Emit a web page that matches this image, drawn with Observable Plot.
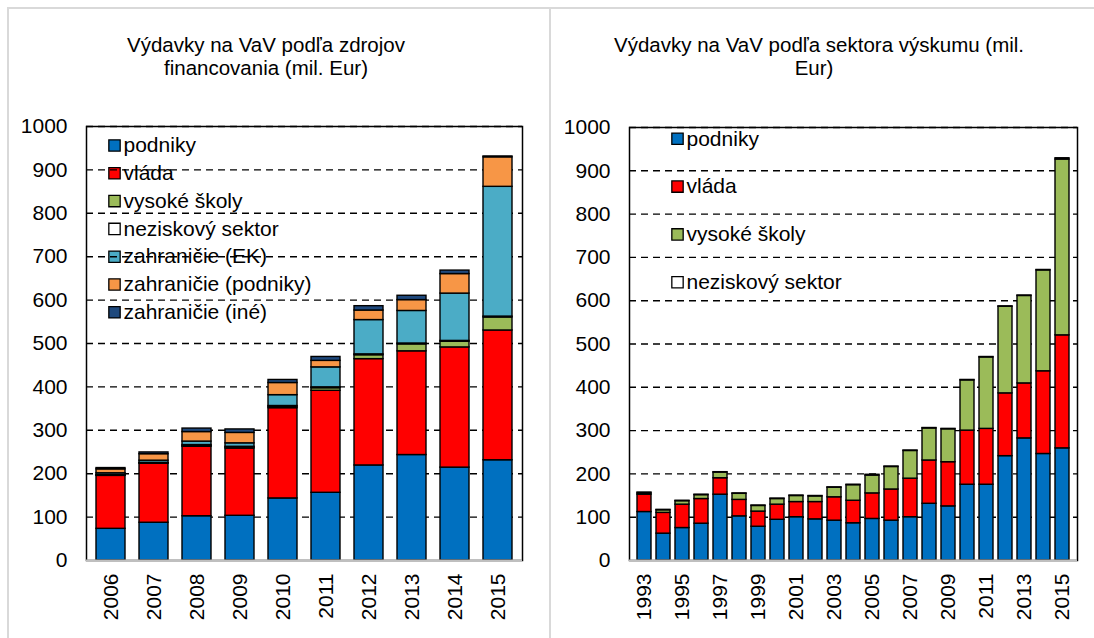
<!DOCTYPE html>
<html><head><meta charset="utf-8">
<script src="https://cdn.jsdelivr.net/npm/d3@7"></script>
<script src="https://cdn.jsdelivr.net/npm/@observablehq/plot@0.6"></script>
<style>
body{margin:0;background:#fff;font-family:"Liberation Sans",Arial,sans-serif;}
#wrap{position:relative;width:1094px;height:638px;overflow:hidden;background:#fff;}
.panel{position:absolute;top:7px;height:700px;border:2px solid #d9d9d9;box-sizing:border-box;}
.title{position:absolute;font-size:20.5px;line-height:23px;text-align:center;color:#000;white-space:nowrap;}
.chart{position:absolute;top:0;}
</style></head><body>
<div id="wrap">
  <div class="panel" style="left:7px;width:544px"></div>
  <div class="panel" style="left:549px;width:560px"></div>
  <div class="title" style="left:66px;width:400px;top:33px">Výdavky na VaV podľa zdrojov<br>financovania (mil. Eur)</div>
  <div class="title" style="left:614px;width:400px;top:33px">Výdavky na VaV podľa sektora výskumu (mil.<br>Eur)</div>
  <div class="chart" id="c1" style="left:0"></div>
  <div class="chart" id="c2" style="left:549px"></div>
</div>
<script>
// ---- Left chart: by source of funding ----
const years1 = [2006, 2007, 2008, 2009, 2010, 2011, 2012, 2013, 2014, 2015];
const series1 = ["podniky", "vláda", "vysoké školy", "neziskový sektor", "zahraničie (EK)", "zahraničie (podniky)", "zahraničie (iné)"];
const colors1 = ["#0070C0", "#FF0000", "#9BBB59", "#FFFFFF", "#4BACC6", "#F79646", "#1F497D"];
const podniky1 = [73, 87, 102, 103, 143, 156, 219, 243, 214, 231];
const vlada1 = [122, 136, 160, 155, 208, 235, 245, 239, 277, 299];
const vs1 = [1, 1, 2, 2, 3, 6, 9, 16, 13, 30];
const nezisk1 = [1, 1, 2, 2, 2, 2, 2, 2, 2, 2];
const ek1 = [4, 5, 8, 8, 25, 46, 79, 75, 109, 299];
const zahrPod1 = [9, 15, 22, 24, 28, 15, 22, 25, 45, 68];
const zahrIne1 = [3, 4, 8, 8, 7, 9, 10, 10, 8, 2];

// ---- Right chart: by research sector ----
const years2 = [1993, 1994, 1995, 1996, 1997, 1998, 1999, 2000, 2001, 2002, 2003, 2004, 2005, 2006, 2007, 2008, 2009, 2010, 2011, 2012, 2013, 2014, 2015];
const series2 = ["podniky", "vláda", "vysoké školy", "neziskový sektor"];
const colors2 = ["#0070C0", "#FF0000", "#9BBB59", "#FFFFFF"];
const podniky2 = [112, 62, 75, 85, 152, 102, 78, 94, 100, 95, 92, 86, 96, 92, 100, 131, 125, 175, 175, 241, 282, 246, 259];
const vlada2 = [40, 48, 54, 57, 38, 38, 35, 35, 35, 40, 54, 52, 59, 72, 89, 100, 102, 125, 129, 145, 127, 191, 261];
const vs2 = [3, 6, 8, 9, 13, 14, 13, 13, 14, 13, 22, 36, 41, 52, 64, 74, 76, 116, 165, 200, 202, 233, 406];
const nezisk2 = [2, 1, 1, 1, 1, 1, 1, 1, 1, 1, 1, 1, 2, 1, 1, 1, 1, 1, 1, 1, 1, 1, 3];

const yTicks = [0, 100, 200, 300, 400, 500, 600, 700, 800, 900, 1000];
const xTicks2 = [1993, 1995, 1997, 1999, 2001, 2003, 2005, 2007, 2009, 2011, 2013, 2015];

function long(years, series, cols) {
  const out = [];
  years.forEach((y, i) => series.forEach((s, j) => out.push({year: y, series: s, value: cols[j][i]})));
  return out;
}
const data1 = long(years1, series1, [podniky1, vlada1, vs1, nezisk1, ek1, zahrPod1, zahrIne1]);
const data2 = long(years2, series2, [podniky2, vlada2, vs2, nezisk2]);

const font = "'Liberation Sans', Arial, sans-serif";
const fs = 21;

function legendMarks(series, colors, sqDx, txtDx, dy0, step) {
  const marks = [];
  series.forEach((s, i) => {
    marks.push(Plot.dot([s], {frameAnchor: "top-left", dx: sqDx, dy: dy0 + i * step, symbol: "square", r: 6.4,
      fill: colors[i], stroke: "black", strokeWidth: 1.3}));
    marks.push(Plot.text([s], {frameAnchor: "top-left", dx: txtDx, dy: dy0 + i * step, textAnchor: "start",
      lineAnchor: "middle", fontSize: fs, fill: "black"}));
  });
  return marks;
}

function chart(opts) {
  return Plot.plot({
    width: opts.width, height: 638,
    marginLeft: opts.ml, marginRight: opts.mr, marginTop: opts.mt, marginBottom: opts.mb,
    style: {fontFamily: font, fontSize: fs + "px", background: "transparent", color: "#000", overflow: "visible"},
    x: {type: "band", domain: opts.years, paddingInner: opts.pi, paddingOuter: opts.pi / 2, label: null,
        tickRotate: -90, tickSize: 0, tickPadding: 13, ticks: opts.xticks, tickFormat: d => String(d)},
    y: {domain: [0, 1000], ticks: yTicks, label: null, tickSize: 0, tickPadding: 19, tickFormat: d => String(d)},
    color: {domain: opts.series, range: opts.colors},
    marks: [
      ...legendMarks(opts.series, opts.colors, opts.sqDx, opts.txtDx, opts.dy0, opts.step),
      Plot.ruleY(yTicks.slice(1), {stroke: "black", strokeWidth: 1.4, strokeDasharray: "7,5"}),
      Plot.barY(opts.data, {x: "year", y: "value", z: "series", fill: "series", order: opts.series,
        stroke: "black", strokeWidth: 1.4}),
      Plot.frame({stroke: "black", strokeWidth: 1.5}),
      Plot.ruleY([0], {stroke: "#bfbfbf", strokeWidth: 2})
    ]
  });
}

document.getElementById("c1").append(chart({
  width: 549, ml: 86, mr: 27, mt: 126, mb: 78, years: years1, pi: 0.335, xticks: years1,
  series: series1, colors: colors1, data: data1, sqDx: 28, txtDx: 37, dy0: 19, step: 27.8
}));
document.getElementById("c2").append(chart({
  width: 545, ml: 80, mr: 17, mt: 127, mb: 78, years: years2, pi: 0.28, xticks: xTicks2,
  series: series2, colors: colors2, data: data2, sqDx: 48, txtDx: 57, dy0: 11.3, step: 47.8
}));
</script>
</body></html>
